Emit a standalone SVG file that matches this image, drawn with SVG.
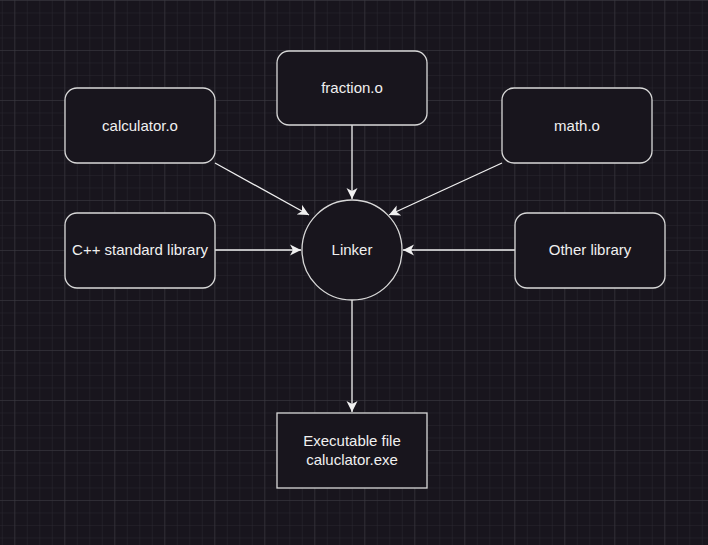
<svg xmlns="http://www.w3.org/2000/svg" width="708" height="545" viewBox="0 0 708 545">
<defs>
<pattern id="minor" x="14.3" y="0" width="12.5" height="12.5" patternUnits="userSpaceOnUse">
<path d="M0 0H12.5M0 0V12.5" fill="none" stroke="#2a2730" stroke-width="1"/>
</pattern>
<pattern id="major" x="14.3" y="0" width="50" height="50" patternUnits="userSpaceOnUse">
<path d="M0 0H50M0 0V50" fill="none" stroke="#3c3a41" stroke-width="1"/>
</pattern>
<marker id="arr" viewBox="0 0 12 12" refX="11" refY="6" markerWidth="12" markerHeight="12" markerUnits="userSpaceOnUse" orient="auto">
<path d="M0 0.5L11 6L0 11.5L3 6Z" fill="#f0f0f0"/>
</marker>
</defs>
<style>
.box{fill:#18151d;stroke:#d8d8d8;stroke-width:1.3}
.lbl{font-family:"Liberation Sans",Arial,sans-serif;font-size:15px;fill:#f0f0f0;text-anchor:middle}
.edge{fill:none;stroke:#f0f0f0;stroke-width:1.3;marker-end:url(#arr)}
</style>
<rect width="708" height="545" fill="#18151d"/>
<rect width="708" height="545" fill="url(#minor)"/>
<rect width="708" height="545" fill="url(#major)"/>
<g id="connectors">
<path class="edge" d="M352 125V199"/>
<path class="edge" d="M215 163L309 215"/>
<path class="edge" d="M502 163L389 215"/>
<path class="edge" d="M215 250H301"/>
<path class="edge" d="M515 250H403"/>
<path class="edge" d="M352 300V412"/>
</g>
<g id="fraction">
<rect class="box" x="277" y="51" width="150" height="74" rx="12"/>
<text class="lbl" x="352" y="93">fraction.o</text>
</g>
<g id="calculator">
<rect class="box" x="65" y="88" width="150" height="75" rx="12"/>
<text class="lbl" x="140" y="131">calculator.o</text>
</g>
<g id="math">
<rect class="box" x="502" y="88" width="150" height="75" rx="12"/>
<text class="lbl" x="577" y="131">math.o</text>
</g>
<g id="cpplib">
<rect class="box" x="65" y="213" width="150" height="75" rx="12"/>
<text class="lbl" x="140" y="255">C++ standard library</text>
</g>
<g id="otherlib">
<rect class="box" x="515" y="213" width="150" height="75" rx="12"/>
<text class="lbl" x="590" y="255">Other library</text>
</g>
<g id="linker">
<circle class="box" cx="352" cy="250" r="50"/>
<text class="lbl" x="352" y="255">Linker</text>
</g>
<g id="exe">
<rect class="box" x="277" y="413" width="150" height="75"/>
<text class="lbl" x="352" y="446">Executable file</text>
<text class="lbl" x="352" y="465">caluclator.exe</text>
</g>
</svg>
